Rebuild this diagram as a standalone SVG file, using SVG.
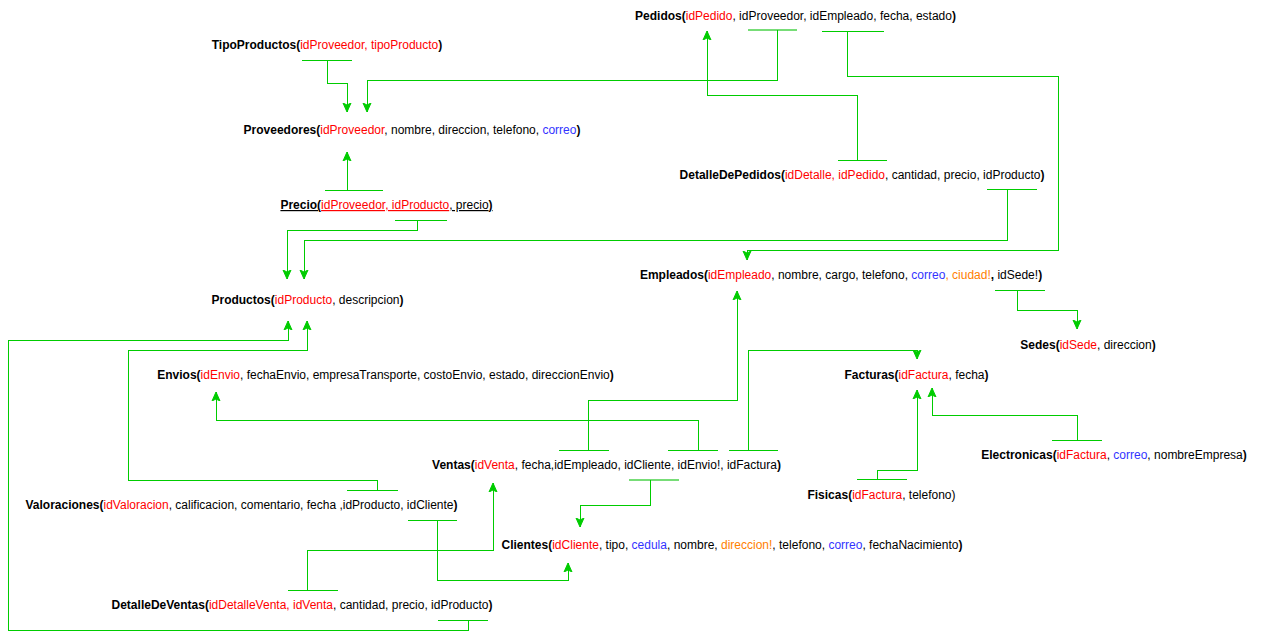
<svg xmlns="http://www.w3.org/2000/svg" width="1275" height="639" viewBox="0 0 1275 639">
<style>
text{font-family:"Liberation Sans",Arial,Helvetica,sans-serif;font-size:12px;fill:#000;text-anchor:middle}
.b{font-weight:bold}
.r{fill:#FF0000}
.u{fill:#3333FF}
.o{fill:#FF8000}
.ul{text-decoration:underline}
.c path{fill:none;stroke:#00CC00;stroke-width:1;shape-rendering:crispEdges}
.c .bar{stroke:#00CC00}
.c .lt{stroke:#77DD77;stroke-width:2}
.c .ar{marker-end:url(#arr)}
</style>
<defs>
<marker id="arr" markerUnits="userSpaceOnUse" markerWidth="10" markerHeight="10" viewBox="0 0 10 10" refX="9" refY="5" orient="auto">
<path d="M0,1 L9,5 L0,9 L2,5 z" fill="#00CC00" stroke="#00CC00" stroke-width="1"/>
</marker>
</defs>
<rect width="1275" height="639" fill="#FFFFFF"/>
<g id="connectors" class="c">
<path class="bar" d="M302,60 H352"/>
<path class="ar" d="M327,60 V83 H347 V112"/>
<path class="lt" d="M748,30 H797"/>
<path class="ar" d="M777,30 V80 H367 V112"/>
<path class="bar" d="M822,31 H884"/>
<path class="ar" d="M847,31 V76 H1058 V250 H747 V260"/>
<path class="bar" d="M838,160 H887"/>
<path class="ar" d="M857,160 V95 H707 V31"/>
<path class="bar" d="M987,189 H1037"/>
<path class="ar" d="M1007,189 V240 H304 V279"/>
<path class="bar" d="M325,190 H383"/>
<path class="ar" d="M347,190 V152"/>
<path class="bar" d="M395,220 H447"/>
<path class="ar" d="M417,220 V230 H287 V279"/>
<path class="bar" d="M995,290 H1045"/>
<path class="ar" d="M1017,290 V310 H1077 V329"/>
<path class="bar" d="M559,450 H609"/>
<path class="ar" d="M588,450 V400 H737 V291"/>
<path class="bar" d="M668,450 H718"/>
<path class="ar" d="M698,450 V420 H216 V392"/>
<path class="bar" d="M729,450 H778"/>
<path class="ar" d="M748,450 V350 H917 V359"/>
<path class="bar" d="M857,479 H907"/>
<path class="ar" d="M877,479 V470 H917 V390"/>
<path class="bar" d="M1052,440 H1102"/>
<path class="ar" d="M1077,440 V415 H932 V388"/>
<path class="lt" d="M629,480 H679"/>
<path class="ar" d="M650,480 V505 H580 V527"/>
<path class="bar" d="M408,520 H457"/>
<path class="ar" d="M437,520 V580 H568 V563"/>
<path class="bar" d="M347,490 H398"/>
<path class="ar" d="M377,490 V480 H128 V350 H307 V321"/>
<path class="bar" d="M288,590 H338"/>
<path class="ar" d="M307,590 V550 H493 V483"/>
<path class="bar" d="M438,620 H488"/>
<path class="ar" d="M468,620 V630 H8 V340 H288 V321"/>
</g>
<g id="pedidos"><text x="795.5" y="19.5"><tspan class="b">Pedidos(</tspan><tspan class="r">idPedido</tspan>, idProveedor, idEmpleado, fecha, estado<tspan class="b">)</tspan></text></g>
<g id="tipoproductos"><text x="327" y="49"><tspan class="b">TipoProductos(</tspan><tspan class="r">idProveedor, tipoProducto</tspan><tspan class="b">)</tspan></text></g>
<g id="proveedores"><text x="412" y="134"><tspan class="b">Proveedores(</tspan><tspan class="r">idProveedor</tspan>, nombre, direccion, telefono, <tspan class="u">correo</tspan><tspan class="b">)</tspan></text></g>
<g id="detalledepedidos"><text x="862" y="179"><tspan class="b">DetalleDePedidos(</tspan><tspan class="r">idDetalle, idPedido</tspan>, cantidad, precio, idProducto<tspan class="b">)</tspan></text></g>
<g id="precio"><text x="386.5" y="209"><tspan class="b ul">Precio(</tspan><tspan class="r ul">idProveedor, idProducto</tspan><tspan class="ul">, precio</tspan><tspan class="b ul">)</tspan></text></g>
<g id="empleados"><text x="841" y="279"><tspan class="b">Empleados(</tspan><tspan class="r">idEmpleado</tspan>, nombre, cargo, telefono, <tspan class="u">correo</tspan><tspan class="o">, ciudad!</tspan><tspan class="b">, </tspan>idSede!<tspan class="b">)</tspan></text></g>
<g id="productos"><text x="307.5" y="304"><tspan class="b">Productos(</tspan><tspan class="r">idProducto</tspan>, descripcion<tspan class="b">)</tspan></text></g>
<g id="sedes"><text x="1088" y="349"><tspan class="b">Sedes(</tspan><tspan class="r">idSede</tspan>, direccion<tspan class="b">)</tspan></text></g>
<g id="envios"><text x="385.5" y="379"><tspan class="b">Envios(</tspan><tspan class="r">idEnvio</tspan>, fechaEnvio, empresaTransporte, costoEnvio, estado, direccionEnvio<tspan class="b">)</tspan></text></g>
<g id="facturas"><text x="916.5" y="379"><tspan class="b">Facturas(</tspan><tspan class="r">idFactura</tspan>, fecha<tspan class="b">)</tspan></text></g>
<g id="electronicas"><text x="1114" y="459"><tspan class="b">Electronicas(</tspan><tspan class="r">idFactura</tspan>, <tspan class="u">correo</tspan>, nombreEmpresa<tspan class="b">)</tspan></text></g>
<g id="ventas"><text x="606.5" y="469"><tspan class="b">Ventas(</tspan><tspan class="r">idVenta</tspan>, fecha,idEmpleado, idCliente, idEnvio!, idFactura<tspan class="b">)</tspan></text></g>
<g id="fisicas"><text x="881.5" y="499"><tspan class="b">Fisicas(</tspan><tspan class="r">idFactura</tspan>, telefono)</text></g>
<g id="valoraciones"><text x="241.5" y="509"><tspan class="b">Valoraciones(</tspan><tspan class="r">idValoracion</tspan>, calificacion, comentario, fecha ,idProducto, idCliente<tspan class="b">)</tspan></text></g>
<g id="clientes"><text x="732" y="549"><tspan class="b">Clientes(</tspan><tspan class="r">idCliente</tspan>, tipo, <tspan class="u">cedula</tspan>, nombre, <tspan class="o">direccion!</tspan>, telefono, <tspan class="u">correo</tspan>, fechaNacimiento<tspan class="b">)</tspan></text></g>
<g id="detalledeventas"><text x="302" y="609"><tspan class="b">DetalleDeVentas(</tspan><tspan class="r">idDetalleVenta, idVenta</tspan>, cantidad, precio, idProducto<tspan class="b">)</tspan></text></g>
</svg>
